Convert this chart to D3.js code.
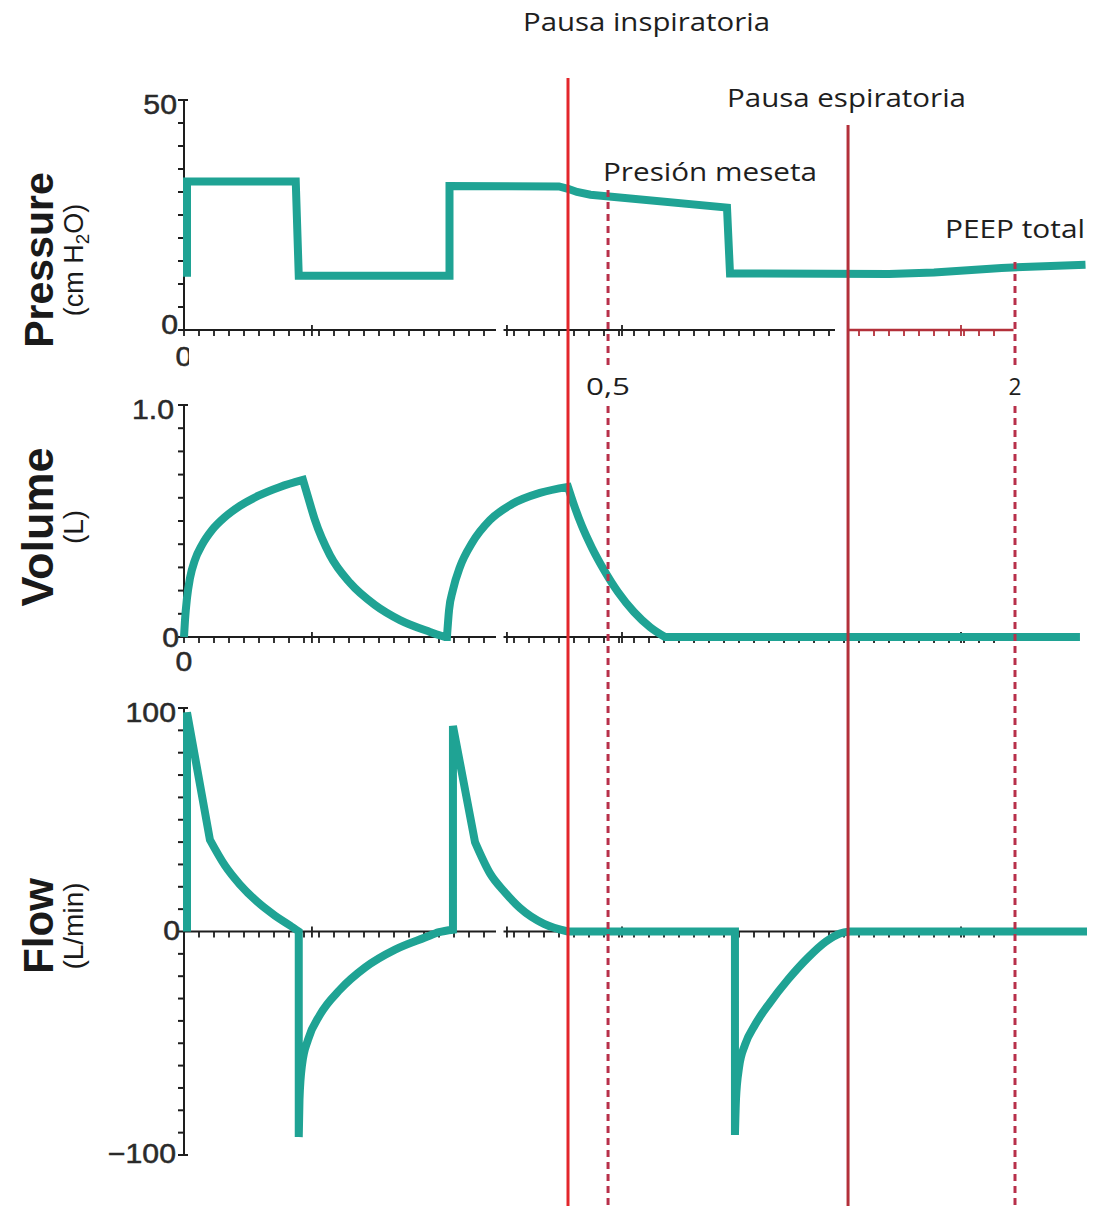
<!DOCTYPE html>
<html>
<head>
<meta charset="utf-8">
<script src="https://cdn.jsdelivr.net/npm/d3@7"></script>
<style>
  html, body { margin: 0; background: #fff; }
  svg { display: block; }
</style>
</head>
<body>
<svg id="chart" width="1094" height="1211"></svg>
<script>
// ---- time axis (seconds) ----
const timeDomain = [0, 6];
const axisEnd = 5.53;                 // where the drawn time axis stops
const axisGap = [2.08, 2.13];         // short break in the time axis
const majorTimeTicks = [0.853, 2.153, 2.92, 5.18];
const minorTimeStep = 0.1;

// ---- pauses ----
const inspPauseStart = 2.56;          // solid line, "Pausa inspiratoria"
const expPauseStart = 4.427;          // solid line, "Pausa espiratoria"
const plateauRead = 2.827;            // dashed line, "Presión meseta" / "0,5"
const peepRead = 5.54;                // dashed line, "PEEP total" / "2"

// ---- pressure (cm H2O) ----
const pressureTicks = [0, 5, 10, 15, 20, 25, 30, 35, 40, 45, 50];
const pressureLabels = ["0", "50"];
const pressure = [
  [0.02, 11.6], [0.02, 32.3], [0.745, 32.3], [0.765, 11.8], [1.77, 11.8],
  [1.77, 31.3], [2.50, 31.2], [2.56, 30.7], [2.62, 30.0], [2.71, 29.4],
  [3.62, 26.6], [3.64, 12.3], [4.70, 12.2], [5.0, 12.5], [5.45, 13.5], [6.01, 14.2]
];

// ---- volume (L) ----
const volumeTicks = [0, 0.1, 0.2, 0.3, 0.4, 0.5, 0.6, 0.7, 0.8, 0.9, 1.0];
const volumeLabels = ["0", "1.0"];
const volumeRise1 = [[0, 0], [0.0067, 0.073], [0.02, 0.168], [0.04, 0.254], [0.073, 0.332],
                     [0.12, 0.397], [0.187, 0.461], [0.273, 0.517], [0.373, 0.565],
                     [0.493, 0.608], [0.64, 0.647], [0.793, 0.677]];
const volumeFall1 = [[0.793, 0.677], [0.827, 0.603], [0.873, 0.504], [0.973, 0.353],
                     [1.107, 0.233], [1.273, 0.138], [1.44, 0.073], [1.64, 0.022], [1.74, 0]];
const volumeRise2 = [[1.753, 0], [1.767, 0.116], [1.793, 0.203], [1.84, 0.302], [1.92, 0.405],
                     [2.04, 0.504], [2.187, 0.573], [2.373, 0.621], [2.56, 0.647]];
const volumeFall2 = [[2.56, 0.647], [2.6, 0.569], [2.653, 0.478], [2.72, 0.384], [2.8, 0.289],
                     [2.893, 0.194], [3.0, 0.108], [3.107, 0.043], [3.207, 0]];
const volumeRest = [[3.207, 0], [5.973, 0]];

// ---- flow (L/min) ----
const flowTicks = d3.range(-100, 101, 10);
const flowLabels = ["\u2212100", "0", "100"];
const flowInsp1Peak = [[0.02, 0], [0.02, 98], [0.173, 41]];
const flowInsp1Decay = [[0.173, 41], [0.273, 29.5], [0.373, 21], [0.487, 13.4],
                        [0.607, 7.1], [0.707, 2.7], [0.765, 0]];
const flowExp1Drop = [[0.765, 0], [0.765, -92]];
const flowExp1Return = [[0.765, -92], [0.77, -75], [0.787, -59.6], [0.827, -48.4],
                        [0.907, -37.2], [1.04, -26], [1.207, -16.1], [1.407, -8.1],
                        [1.607, -2.7], [1.7, -0.3], [1.793, 0.8]];
const flowInsp2Peak = [[1.793, 0.8], [1.793, 92], [1.94, 40]];
const flowInsp2Decay = [[1.94, 40], [2.04, 26], [2.14, 17.5], [2.24, 10.5], [2.4, 3.4], [2.56, 0]];
const flowPause = [[2.56, 0], [3.673, 0], [3.673, -91]];
const flowExp2Return = [[3.673, -91], [3.68, -75], [3.7, -61], [3.74, -50.7], [3.807, -41.7],
                        [3.907, -31.8], [4.027, -21.5], [4.16, -11.7], [4.28, -4.5],
                        [4.373, -0.9], [4.44, 0]];
const flowRest = [[4.44, 0], [6.02, 0]];

// ---- colours / fonts ----
const TEAL = "#1fa394";
const AXIS = "#1e1e1e";
const RED = "#e3262b";
const DARK_RED = "#b3303a";
const DASH_RED = "#b8304a";
const SANS = "'Liberation Sans', Arial, Helvetica, sans-serif";
const NOTE = "'Open Sans', Lato, sans-serif";

const svg = d3.select("#chart");
const x = d3.scaleLinear().domain(timeDomain).range([184, 1084]);

const panels = [
  { name: "pressure", y: d3.scaleLinear().domain([0, 50]).range([330, 100]),
    ticks: pressureTicks, zero: 0 },
  { name: "volume", y: d3.scaleLinear().domain([0, 1]).range([637, 405]),
    ticks: volumeTicks, zero: 0 },
  { name: "flow", y: d3.scaleLinear().domain([-100, 100]).range([1155, 708]),
    ticks: flowTicks, zero: 0 }
];

const minorTimes = d3.range(minorTimeStep, axisEnd - 0.05, minorTimeStep)
  .map(v => Math.round(v * 10) / 10)
  .filter(v => !(v > axisGap[0] - 0.01 && v < axisGap[1] + 0.01));

// ---- axes ----
panels.forEach(p => {
  const g = svg.append("g").attr("class", "axes-" + p.name);
  const y = p.y;
  const y0 = y(p.zero);
  const [yBot, yTop] = y.range();

  // vertical axis, minor ticks on the left
  g.append("line").attr("x1", x(0)).attr("x2", x(0)).attr("y1", yTop).attr("y2", yBot)
    .attr("stroke", AXIS).attr("stroke-width", 2);
  g.selectAll(".ytick").data(p.ticks).join("line")
    .attr("x1", x(0) - 6).attr("x2", x(0))
    .attr("y1", d => y(d)).attr("y2", d => y(d))
    .attr("stroke", AXIS).attr("stroke-width", 2);
  // end ticks poke through the axis
  g.selectAll(".yend").data(y.domain()).join("line")
    .attr("x1", x(0)).attr("x2", x(0) + 4)
    .attr("y1", d => y(d)).attr("y2", d => y(d))
    .attr("stroke", AXIS).attr("stroke-width", 2);

  // time axis (the pressure one turns red under the expiratory pause)
  const redFrom = p.name === "pressure" ? expPauseStart : null;
  const blackEnd = redFrom !== null ? 4.34 : axisEnd;
  const stretches = [[0, axisGap[0]], [axisGap[1], blackEnd]];
  g.selectAll(".xline").data(stretches).join("line")
    .attr("x1", d => x(d[0])).attr("x2", d => x(d[1]))
    .attr("y1", y0).attr("y2", y0)
    .attr("stroke", AXIS).attr("stroke-width", 2);
  if (redFrom !== null) {
    g.append("line").attr("x1", x(redFrom)).attr("x2", x(axisEnd))
      .attr("y1", y0).attr("y2", y0).attr("stroke", DARK_RED).attr("stroke-width", 2.5);
  }
  const colorAt = t => (redFrom !== null && t >= redFrom) ? DARK_RED : AXIS;
  const minors = minorTimes.filter(t => redFrom === null || t < 4.34 || t > redFrom + 0.05);
  g.selectAll(".xtick").data(minors).join("line")
    .attr("x1", d => x(d)).attr("x2", d => x(d))
    .attr("y1", y0).attr("y2", y0 + 6)
    .attr("stroke", colorAt).attr("stroke-width", 1.8);
  g.selectAll(".xmajor").data([0].concat(majorTimeTicks)).join("line")
    .attr("x1", d => x(d)).attr("x2", d => x(d))
    .attr("y1", y0 - 5).attr("y2", y0 + 6)
    .attr("stroke", colorAt).attr("stroke-width", 1.8);
});

// ---- tick labels ----
function tickLabel(parent, txt, xr, yc, anchor) {
  parent.append("text")
    .attr("transform", `translate(${xr},${yc + 27 * 0.36}) scale(1.12,1)`)
    .attr("text-anchor", anchor || "end")
    .attr("font-family", SANS).attr("font-size", 27)
    .attr("fill", "#2a2a2a").attr("stroke", "#2a2a2a").attr("stroke-width", 0.5)
    .text(txt);
}
const [pP, pV, pF] = panels;
tickLabel(svg, pressureLabels[1], 177, pP.y(50) + 4);
tickLabel(svg, pressureLabels[0], 178, pP.y(0) - 6);
tickLabel(svg, volumeLabels[1], 174, pV.y(1) + 4);
tickLabel(svg, volumeLabels[0], 179, pV.y(0));
tickLabel(svg, flowLabels[2], 176, pF.y(100) + 4);
tickLabel(svg, flowLabels[1], 180, pF.y(0) - 1);
tickLabel(svg, flowLabels[0], 176, pF.y(-100) - 2);

// time-axis origin labels (the upper one is partly hidden)
svg.append("clipPath").attr("id", "origin-clip")
  .append("rect").attr("x", 0).attr("y", 0).attr("width", x(0) + 5).attr("height", 1211);
tickLabel(svg.append("g").attr("clip-path", "url(#origin-clip)"), "0", x(0), pP.y(0) + 26, "middle");
tickLabel(svg, "0", x(0), pV.y(0) + 24, "middle");

// ---- axis titles (rotated) ----
function title(main, sub, yc, mainSize, subSize) {
  svg.append("text")
    .attr("transform", `translate(53,${yc}) rotate(-90)`)
    .attr("text-anchor", "middle").attr("font-family", SANS)
    .attr("font-weight", "bold").attr("font-size", mainSize)
    .attr("fill", "#1a1a1a").text(main);
  const t = svg.append("text")
    .attr("transform", `translate(83,${yc}) rotate(-90)`)
    .attr("text-anchor", "middle").attr("font-family", SANS)
    .attr("font-size", subSize).attr("fill", "#1a1a1a");
  sub.forEach(s => {
    const ts = t.append("tspan").text(s.t);
    if (s.sub) ts.attr("font-size", subSize * 0.7).attr("dy", 6);
    if (s.after) ts.attr("dy", -6);
  });
}
title("Pressure", [{ t: "(cm H" }, { t: "2", sub: true }, { t: "O)", after: true }], 260, 41, 27);
title("Volume", [{ t: "(L)" }], 527, 45, 28);
title("Flow", [{ t: "(L/min)" }], 926, 42, 28);

// ---- waveforms ----
const linear = d3.curveLinear;
const smooth = d3.curveMonotoneX;

function tracePath(y, segments) {
  return segments.map((s, i) => {
    const d = d3.line().x(p => x(p[0])).y(p => y(p[1])).curve(s.curve)(s.pts);
    return i ? "L" + d.slice(1) : d;
  }).join("");
}
function drawTrace(d) {
  svg.append("path").attr("d", d)
    .attr("fill", "none").attr("stroke", TEAL).attr("stroke-width", 8)
    .attr("stroke-linejoin", "miter").attr("stroke-miterlimit", 2.5)
    .attr("stroke-linecap", "butt");
}

drawTrace(tracePath(pP.y, [{ curve: linear, pts: pressure }]));
drawTrace(tracePath(pV.y, [
  { curve: smooth, pts: volumeRise1 }, { curve: smooth, pts: volumeFall1 },
  { curve: linear, pts: [volumeFall1[volumeFall1.length - 1], volumeRise2[0]] },
  { curve: smooth, pts: volumeRise2 }, { curve: smooth, pts: volumeFall2 },
  { curve: linear, pts: volumeRest }
]));
drawTrace(tracePath(pF.y, [
  { curve: linear, pts: flowInsp1Peak }, { curve: smooth, pts: flowInsp1Decay },
  { curve: linear, pts: flowExp1Drop }, { curve: smooth, pts: flowExp1Return },
  { curve: linear, pts: flowInsp2Peak }, { curve: smooth, pts: flowInsp2Decay },
  { curve: linear, pts: flowPause }, { curve: smooth, pts: flowExp2Return },
  { curve: linear, pts: flowRest }
]));

// ---- pause markers ----
const markers = [
  { t: inspPauseStart, top: 78, color: RED, dash: null },
  { t: expPauseStart, top: 125, color: DARK_RED, dash: null },
  { t: plateauRead, top: 190, color: DASH_RED, dash: "7,5" },
  { t: peepRead, top: 262, color: DASH_RED, dash: "7,5" }
];
svg.selectAll(".marker").data(markers).join("line")
  .attr("x1", d => x(d.t)).attr("x2", d => x(d.t))
  .attr("y1", d => d.top).attr("y2", 1206)
  .attr("stroke", d => d.color).attr("stroke-width", 3)
  .attr("stroke-dasharray", d => d.dash);

// ---- duration labels on the dashed lines ----
const durations = [
  { text: "0,5", t: plateauRead, w: 44 },
  { text: "2", t: peepRead, w: 13 }
];
const dur = svg.selectAll(".dur").data(durations).join("g");
dur.append("rect")
  .attr("x", d => x(d.t) - d.w / 2 - 3).attr("y", 370)
  .attr("width", d => d.w + 6).attr("height", 34).attr("fill", "#fff");
dur.append("text")
  .attr("x", d => x(d.t)).attr("y", 395)
  .attr("text-anchor", "middle")
  .attr("textLength", d => d.w).attr("lengthAdjust", "spacingAndGlyphs")
  .attr("font-family", NOTE).attr("font-size", 24)
  .attr("fill", "#1e1e1e").text(d => d.text);

// ---- annotations ----
const notes = [
  { text: "Pausa inspiratoria", x: 523, w: 247, y: 31 },
  { text: "Pausa espiratoria", x: 727, w: 239, y: 107 },
  { text: "Presión meseta", x: 603, w: 214, y: 181 },
  { text: "PEEP total", x: 945, w: 140, y: 238 }
];
svg.selectAll(".note").data(notes).join("text")
  .attr("x", d => d.x).attr("y", d => d.y)
  .attr("textLength", d => d.w).attr("lengthAdjust", "spacingAndGlyphs")
  .attr("font-family", NOTE).attr("font-size", 25)
  .attr("fill", "#1e1e1e").text(d => d.text);
</script>
</body>
</html>
